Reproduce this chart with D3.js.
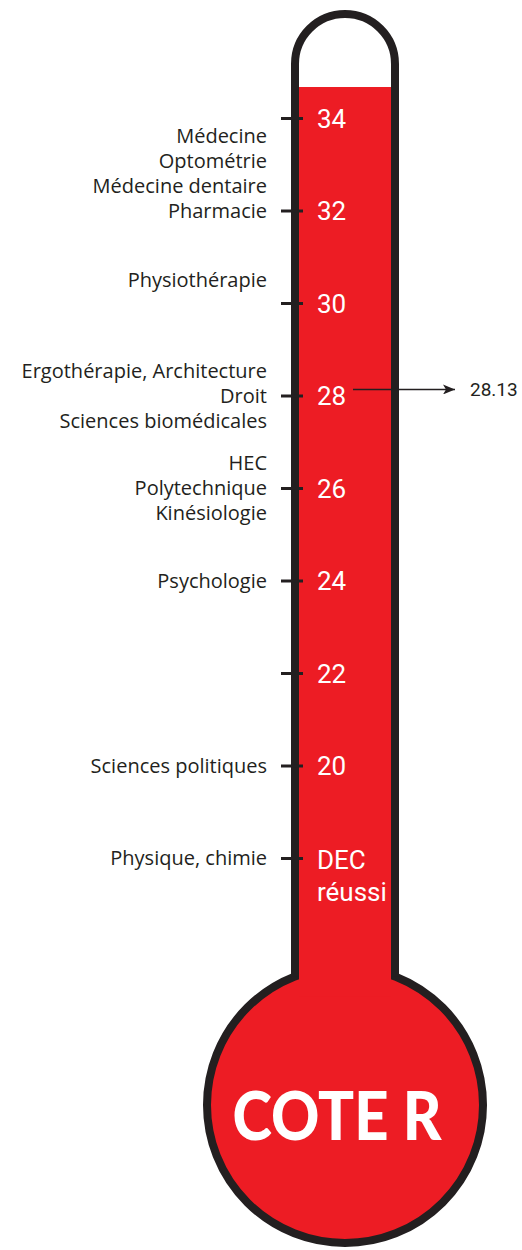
<!DOCTYPE html>
<html>
<head>
<meta charset="utf-8">
<script src="https://cdn.jsdelivr.net/npm/d3@7"></script>
<style>
    body { margin: 0; background: #fff; }
    svg { display: block; }
</style>
</head>
<body>
<svg id="chart" width="522" height="1250"></svg>
<script>
// scale ticks (cote R) and their labels
const tickValues = [34, 32, 30, 28, 26, 24, 22, 20, 18];
const tickLabels = ["34", "32", "30", "28", "26", "24", "22", "20", "DEC|réussi"];

// programs, grouped by the cote R they sit at
const programGroups = [
    ["Médecine", "Optométrie", "Médecine dentaire", "Pharmacie"],
    ["Physiothérapie"],
    ["Ergothérapie, Architecture", "Droit", "Sciences biomédicales"],
    ["HEC", "Polytechnique", "Kinésiologie"],
    ["Psychologie"],
    ["Sciences politiques"],
    ["Physique, chimie"]
];
const groupValues = [32, 30.5, 28, 26, 24, 20, 18];
const groupAnchorLine = [3, 0, 1, 1, 0, 0, 0];

// mercury level and the marked value
const fillLevel = 34.67;
const markedValue = 28.13;

const red = "#ed1c24";
const ink = "#231f20";

const svg = d3.select("#chart");

let y = d3.scaleLinear()
    .domain([18, 34])
    .range([858, 118]);

let tubeLeft = 295, tubeRight = 395, cx = 345;
let arcCy = 64, bulbCy = 1105, bulbR = 138;
let joinY = bulbCy - Math.sqrt(bulbR * bulbR - 50 * 50);

// bulb
svg.append("circle")
    .attr("cx", cx)
    .attr("cy", bulbCy)
    .attr("r", bulbR)
    .attr("fill", red)
    .attr("stroke", ink)
    .attr("stroke-width", 8);

// mercury in the tube
svg.append("rect")
    .attr("x", tubeLeft + 4)
    .attr("y", y(fillLevel))
    .attr("width", tubeRight - tubeLeft - 8)
    .attr("height", joinY + 20 - y(fillLevel))
    .attr("fill", red);

// tube outline
let p = d3.path();
p.moveTo(tubeLeft, joinY);
p.lineTo(tubeLeft, arcCy);
p.arc(cx, arcCy, 50, Math.PI, 0);
p.lineTo(tubeRight, joinY);
svg.append("path")
    .attr("d", p.toString())
    .attr("fill", "none")
    .attr("stroke", ink)
    .attr("stroke-width", 8);

// axis: ticks across the left wall, labels in the mercury
let yAxis = d3.axisRight(y)
    .tickValues(tickValues)
    .tickSize(22)
    .tickPadding(14)
    .tickFormat((d, i) => tickLabels[i]);

let axisG = svg.append("g")
    .attr("class", "y-axis")
    .attr("transform", "translate(281,0)")
    .call(yAxis);

axisG.select(".domain").remove();
axisG.selectAll(".tick line")
    .attr("stroke", ink)
    .attr("stroke-width", 3);
axisG.selectAll(".tick text")
    .attr("fill", "#fff")
    .attr("font-family", "Roboto, sans-serif")
    .attr("font-size", 26)
    .attr("dy", "0.36em")
    .each(function (d, i) {
        let parts = tickLabels[i].split("|");
        if (parts.length > 1) {
            let t = d3.select(this).text("").attr("dy", null);
            parts.forEach((s, j) => {
                t.append("tspan")
                    .attr("x", 36)
                    .attr("y", 10 + j * 32)
                    .text(s);
            });
        }
    });

// program labels
let lineH = 25;
programGroups.forEach(function (lines, gi) {
    let base = y(groupValues[gi]);
    svg.append("g")
        .attr("class", "program")
        .selectAll("text")
        .data(lines)
        .enter().append("text")
        .attr("x", 267)
        .attr("y", (d, i) => base + (i - groupAnchorLine[gi]) * lineH)
        .attr("dy", "0.35em")
        .attr("text-anchor", "end")
        .attr("font-family", "'Open Sans', sans-serif")
        .attr("font-size", 20)
        .attr("fill", ink)
        .text(d => d);
});

// marker arrow
svg.append("defs").append("marker")
    .attr("id", "head")
    .attr("viewBox", "0 0 12 10")
    .attr("refX", 12)
    .attr("refY", 5)
    .attr("markerWidth", 12)
    .attr("markerHeight", 10)
    .attr("markerUnits", "userSpaceOnUse")
    .attr("orient", "auto")
    .append("path")
    .attr("d", "M0,0 L12,5 L0,10 L3,5 Z")
    .attr("fill", ink);

svg.append("line")
    .attr("x1", 353)
    .attr("x2", 455)
    .attr("y1", y(markedValue))
    .attr("y2", y(markedValue))
    .attr("stroke", ink)
    .attr("stroke-width", 1.5)
    .attr("marker-end", "url(#head)");

svg.append("text")
    .attr("x", 470)
    .attr("y", y(markedValue))
    .attr("dy", "0.36em")
    .attr("font-family", "Roboto, sans-serif")
    .attr("font-size", 19)
    .attr("fill", ink)
    .text(markedValue.toFixed(2));

// title in the bulb
svg.append("text")
    .attr("x", 337)
    .attr("y", 1140)
    .attr("text-anchor", "middle")
    .attr("font-family", "Lato, sans-serif")
    .attr("font-weight", 900)
    .attr("font-size", 66)
    .attr("textLength", 209)
    .attr("lengthAdjust", "spacingAndGlyphs")
    .attr("fill", "#fff")
    .text("COTE R");
</script>
</body>
</html>
